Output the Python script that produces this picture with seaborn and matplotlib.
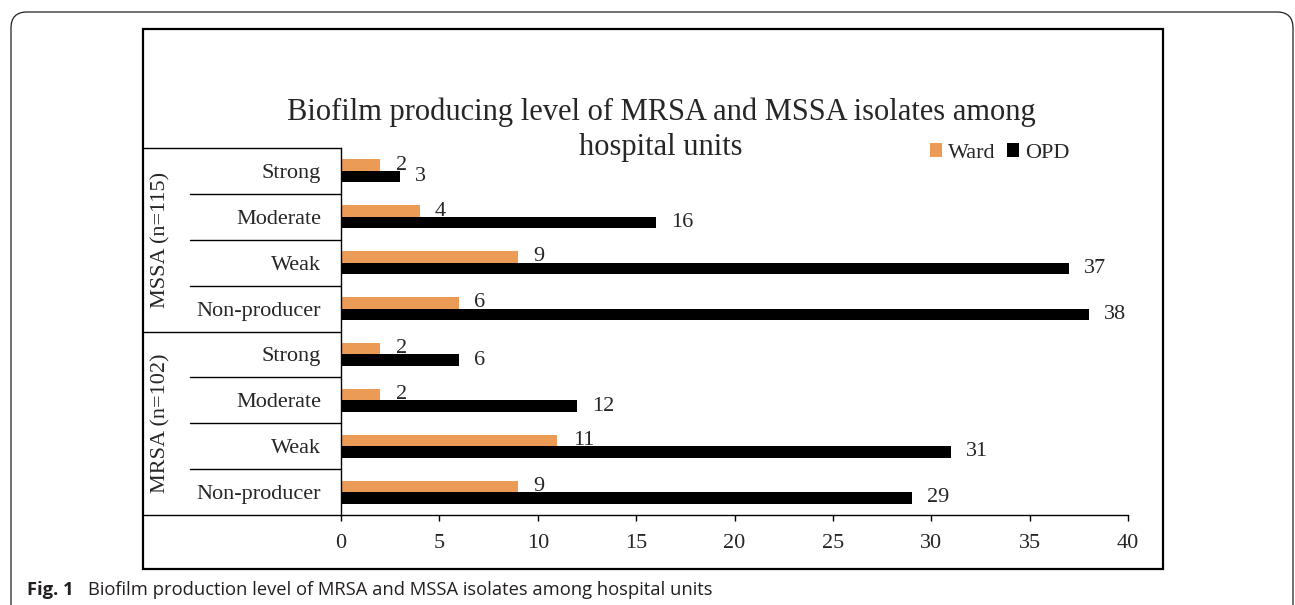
import matplotlib
matplotlib.use('Agg')
import matplotlib.pyplot as plt
import matplotlib.transforms as mtransforms
from matplotlib.patches import Rectangle, FancyBboxPatch
import pandas as pd
import seaborn as sns

# Dados
groups = ['MSSA (n=115)', 'MRSA (n=102)']
levels = ['Strong', 'Moderate', 'Weak', 'Non-producer']
ward_mssa = [2, 4, 9, 6]
opd_mssa = [3, 16, 37, 38]
ward_mrsa = [2, 2, 11, 9]
opd_mrsa = [6, 12, 31, 29]
units = ['Ward', 'OPD']
colors = ['#EB9B55', '#000000']
x_ticks = [0, 5, 10, 15, 20, 25, 30, 35, 40]

title_lines = ['Biofilm producing level of MRSA and MSSA isolates among', 'hospital units']
caption = 'Biofilm production level of MRSA and MSSA isolates among hospital units'

values = {
    ('MSSA (n=115)', 'Ward'): ward_mssa,
    ('MSSA (n=115)', 'OPD'): opd_mssa,
    ('MRSA (n=102)', 'Ward'): ward_mrsa,
    ('MRSA (n=102)', 'OPD'): opd_mrsa,
}
rows = []
for g in groups:
    for u in units:
        for lv, v in zip(levels, values[(g, u)]):
            rows.append({'row': g + '|' + lv, 'Unit': u, 'count': v})
df = pd.DataFrame(rows)
row_order = [g + '|' + lv for g in groups for lv in levels]

sns.set_style('white')
plt.rcParams['font.family'] = ['Liberation Serif', 'DejaVu Serif']

W, H = 1295, 605
fig = plt.figure(figsize=(W / 100, H / 100), dpi=100)
ax = fig.add_axes([341 / W, 90 / H, 787 / W, 367 / H])

sns.barplot(data=df, x='count', y='row', hue='Unit', order=row_order,
            hue_order=units, palette=colors, width=0.5, orient='h',
            saturation=1, edgecolor='none', linewidth=0, ax=ax)

ax.set_xlim(0, 40)
ax.set_ylim(len(row_order) - 0.5, -0.5)
ax.set_xticks(x_ticks)
ax.set_yticks(range(len(row_order)))
ax.set_yticklabels(levels * 2)
ax.set_xlabel('')
ax.set_ylabel('')
ax.tick_params(axis='x', direction='out', length=4.5, width=1, pad=9.5,
               labelsize=16, color='black', bottom=True)
ax.tick_params(axis='y', length=0, pad=14.4, labelsize=16)
for s in ['top', 'right']:
    ax.spines[s].set_visible(False)
for s in ['left', 'bottom']:
    ax.spines[s].set_color('black')
    ax.spines[s].set_linewidth(1)

# rótulos de valor (Ward fica atrás das barras OPD)
for i, cont in enumerate(ax.containers):
    lbls = ax.bar_label(cont, padding=11, fontsize=16)
    for t in lbls:
        t.set_zorder(0.8 if i == 0 else 3)

# linhas da "tabela" de categorias
blend = mtransforms.blended_transform_factory(ax.transAxes, ax.transData)
x_in = (190 - 341) / 787
x_out = (143 - 341) / 787
for y in [0.5, 1.5, 2.5, 4.5, 5.5, 6.5]:
    ax.plot([x_in, 0], [y, y], transform=blend, clip_on=False, color='black', lw=1)
for y in [-0.5, 3.5, 7.5]:
    ax.plot([x_out, 0], [y, y], transform=blend, clip_on=False, color='black', lw=1)
for k, g in enumerate(groups):
    ax.text((161 - 341) / 787, 1.5 + 4 * k, g, transform=blend, rotation=90,
            ha='center', va='center', fontsize=16)

sns.move_legend(ax, 'center left', bbox_to_anchor=(930 / W, 1 - 153 / H),
                bbox_transform=fig.transFigure, ncol=2, title=None, frameon=False,
                fontsize=16, handlelength=0.55, handleheight=0.55,
                handletextpad=0.27, columnspacing=0.5, borderpad=0, borderaxespad=0)

# título em duas linhas
fig.text(661 / W, 1 - 112 / H, title_lines[0], ha='center', va='center', fontsize=22)
fig.text(661 / W, 1 - 147 / H, title_lines[1], ha='center', va='center', fontsize=22)

# molduras
fig.add_artist(Rectangle((143 / W, 1 - 569 / H), 1020 / W, 540 / H,
                         transform=fig.transFigure, fill=False, lw=1.6, ec='black'))
fig.add_artist(FancyBboxPatch((11, -40), 1282, H - 12 + 40,
                              boxstyle='round,pad=0,rounding_size=16',
                              transform=mtransforms.IdentityTransform(),
                              fill=False, lw=0.9, ec='#231f20'))

fig.text(27 / W, 1 - 590 / H, 'Fig. 1', fontweight='bold', family='Open Sans',
         fontsize=13.2, va='center', color='#231f20')
fig.text(88 / W, 1 - 590 / H, caption, family='Open Sans',
         fontsize=13.2, va='center', color='#231f20')

fig.savefig('out.png', dpi=100)
